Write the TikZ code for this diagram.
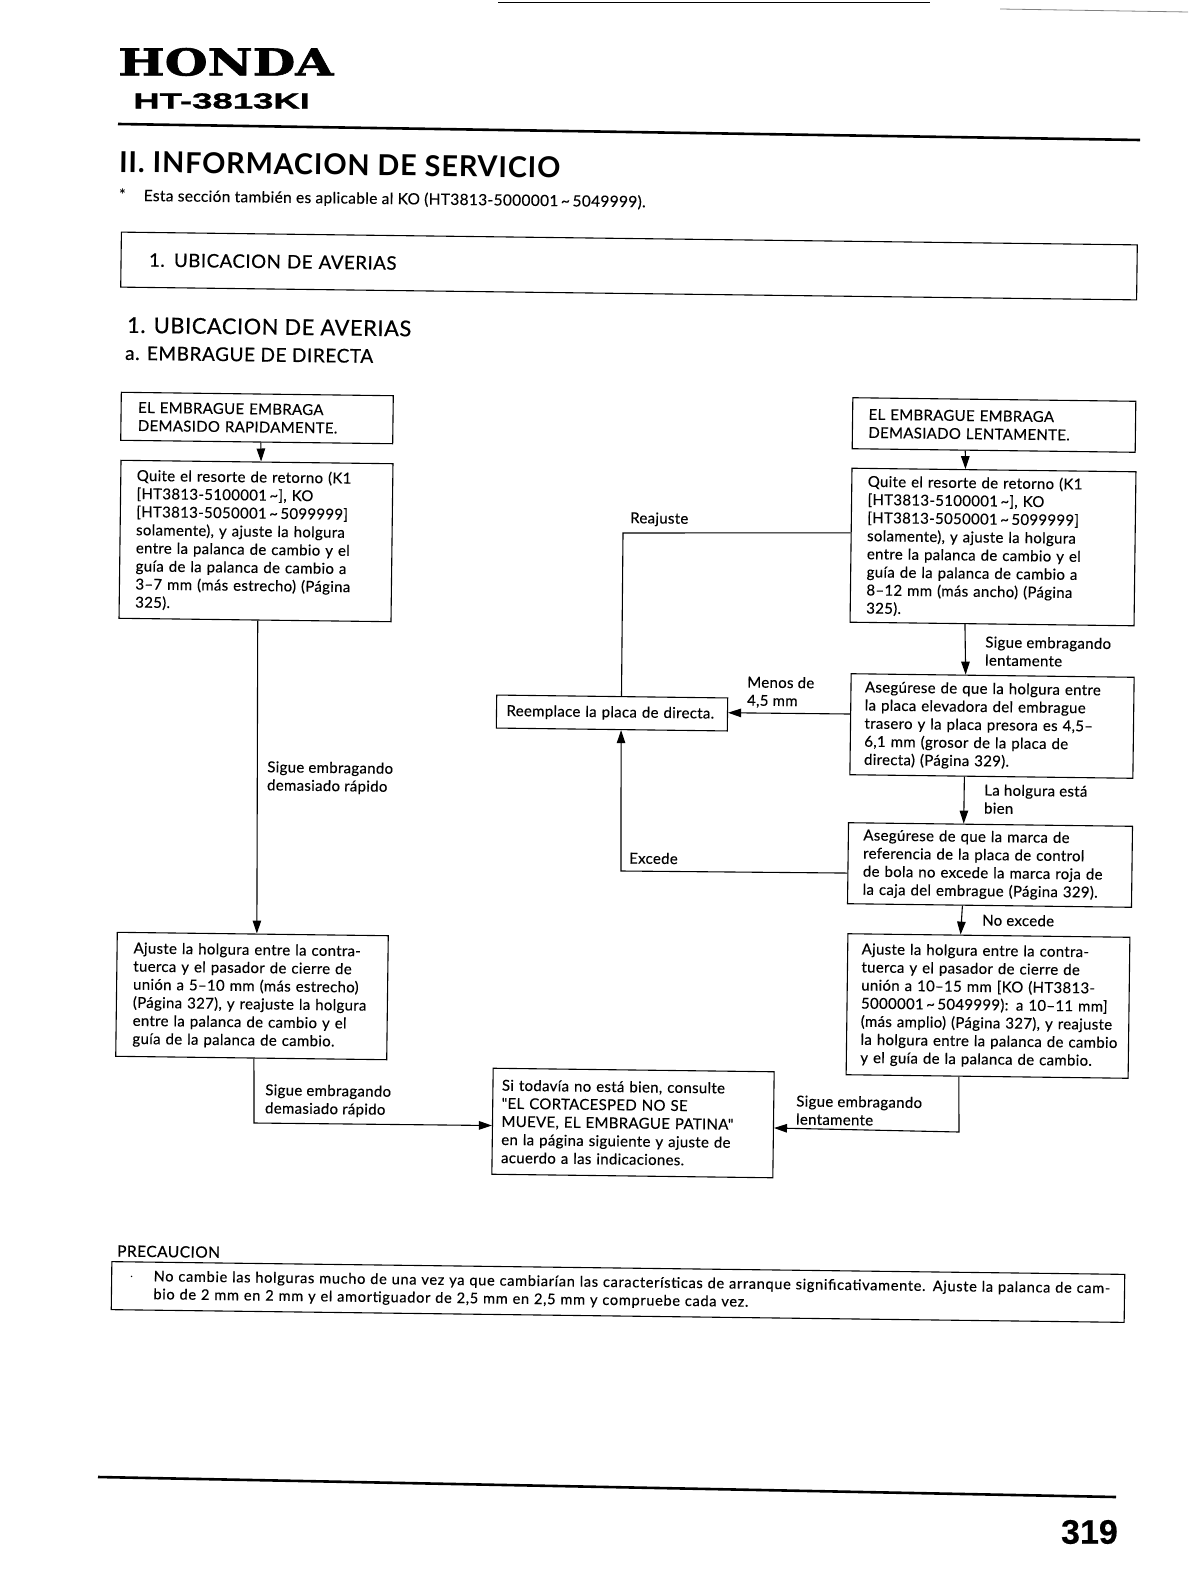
\documentclass[tikz,border=0pt]{standalone}
\usepackage{fontspec}
\usetikzlibrary{calc,arrows.meta}
\setmainfont{Lato}
\newfontfamily\bodyfam[LetterSpace=2.0,FakeBold=0.25]{Lato}
\newfontfamily\headfam[LetterSpace=3.0,FakeBold=0.6]{Lato}
\newfontfamily\titlefam[LetterSpace=3.0]{Lato Bold}
\newfontfamily\precfam[LetterSpace=4.5,FakeBold=0.4]{Lato}
\newfontfamily\serfam[FakeBold=1.5]{DejaVu Serif Bold}
\newfontfamily\helvfam[FakeBold=1.0]{Liberation Sans Bold}
\newfontfamily\pagefam[FakeBold=0.4]{Liberation Sans Bold}
\newcommand{\bodyf}{\bodyfam\fontsize{15}{18.1}\selectfont}
\tikzset{
  flowbox/.style={draw,line width=1.1pt,rotate=-0.72,align=left,font=\bodyf,inner ysep=0pt},
  note/.style={rotate=-0.72,align=left,anchor=west,inner sep=0pt,font=\bodyf},
  link/.style={draw,line width=1.1pt},
  arrowlink/.style={link,-{Triangle[length=13pt,width=8.5pt]}},
  rulethick/.style={line width=2.6pt},
  rulethin/.style={line width=0.8pt}
}
\begin{document}
\begin{tikzpicture}[x=1pt,y=-1pt]
\useasboundingbox[fill=white] (0,0) rectangle (1188,1594);
% scan edge marks and rules
\coordinate (e1) at (498,2); \coordinate (e2) at (930,2);
\coordinate (e3) at (1000,9); \coordinate (e4) at (1188,12);
\coordinate (r1) at (118,124); \coordinate (r2) at (1140,140);
\coordinate (r3) at (98,1477); \coordinate (r4) at (1116,1497);
\draw[rulethin] (e1)--(e2);
\draw[rulethin,gray] (e3)--(e4);
\draw[rulethick] (r1)--(r2);
\draw[rulethick] (r3)--(r4);
% headers
\node[inner sep=0,anchor=west,xscale=1.33,font=\serfam\fontsize{37}{37}\selectfont] (honda) at (118,62) {HONDA};
\node[inner sep=0,anchor=west,xscale=1.66,font=\helvfam\fontsize{22}{22}\selectfont] (model) at (133,101) {HT-3813KI};
\node[note,font=\titlefam\fontsize{28.8}{30}\selectfont] (title) at (119,162) {II. INFORMACION DE SERVICIO};
\node[note,font=\bodyfam\fontsize{15.5}{16}\selectfont] (star) at (119,196) {{\titlefam *}\hspace{18pt}Esta sección también es aplicable al KO (HT3813-5000001\,{\char"7E}\,5049999).};
\node[flowbox,minimum width=1016pt,minimum height=55pt,inner xsep=0pt,text width=960pt,font=\headfam\fontsize{18.6}{20}\selectfont] (banner) at (629,266) {1. UBICACION DE AVERIAS};
\node[note,font=\headfam\fontsize{21.7}{24}\selectfont] (sect) at (127,325) {1. UBICACION DE AVERIAS};
\node[note,font=\headfam\fontsize{19}{20}\selectfont] (sub) at (125,353) {a. EMBRAGUE DE DIRECTA};
% boxes
\node[flowbox,text width=238pt,inner xsep=17pt,minimum height=48pt] (A) at (257,418) {EL EMBRAGUE EMBRAGA\\DEMASIDO RAPIDAMENTE.};
\node[flowbox,text width=240pt,inner xsep=16pt,minimum height=158pt] (B) at (256,541) {Quite el resorte de retorno (K1\\{[}HT3813-5100001\,{\char"7E}{]}, KO\\{[}HT3813-5050001\,{\char"7E}\,5099999{]}\\solamente), y ajuste la holgura\\entre la palanca de cambio y el\\guía de la palanca de cambio a\\3–7 mm (más estrecho) (Página\\325).};
\node[flowbox,text width=238pt,inner xsep=16.5pt,minimum height=124pt] (I) at (252,996) {Ajuste la holgura entre la contra-\\tuerca y el pasador de cierre de\\unión a 5–10 mm (más estrecho)\\(Página 327), y reajuste la holgura\\entre la palanca de cambio y el\\guía de la palanca de cambio.};
\node[flowbox,text width=251pt,inner xsep=16pt,minimum height=51pt] (C) at (994,425) {EL EMBRAGUE EMBRAGA\\DEMASIADO LENTAMENTE.};
\node[flowbox,text width=252pt,inner xsep=16pt,minimum height=154pt] (D) at (993,547) {Quite el resorte de retorno (K1\\{[}HT3813-5100001\,{\char"7E}{]}, KO\\{[}HT3813-5050001\,{\char"7E}\,5099999{]}\\solamente), y ajuste la holgura\\entre la palanca de cambio y el\\guía de la palanca de cambio a\\8–12 mm (más ancho) (Página\\325).};
\node[flowbox,text width=255pt,inner xsep=14pt,minimum height=101pt] (E) at (992,726) {Asegúrese de que la holgura entre\\la placa elevadora del embrague\\trasero y la placa presora es 4,5–\\6,1 mm (grosor de la placa de\\directa) (Página 329).};
\node[flowbox,text width=254pt,inner xsep=15pt,minimum height=81pt] (F) at (990,865) {Asegúrese de que la marca de\\referencia de la placa de control\\de bola no excede la marca roja de\\la caja del embrague (Página 329).};
\node[flowbox,text width=254pt,inner xsep=14pt,minimum height=141pt] (G) at (988,1006) {Ajuste la holgura entre la contra-\\tuerca y el pasador de cierre de\\unión a 10–15 mm {[}KO (HT3813-\\5000001\,{\char"7E}\,5049999): a 10–11 mm{]}\\(más amplio) (Página 327), y reajuste\\\mbox{la holgura entre la palanca de cambio}\\y el guía de la palanca de cambio.};
\node[flowbox,text width=211pt,inner xsep=10pt,minimum height=33pt] (H) at (612,713) {Reemplace la placa de directa.};
\node[flowbox,text width=263pt,inner xsep=9pt,minimum height=106pt] (J) at (633,1123) {Si todavía no está bien, consulte\\"EL CORTACESPED NO SE\\MUEVE, EL EMBRAGUE PATINA"\\en la página siguiente y ajuste de\\acuerdo a las indicaciones.};
\node[flowbox,text width=977pt,inner xsep=18pt,minimum height=48pt,font=\precfam\fontsize{14.6}{18}\selectfont] (P) at (618,1292) {\makebox[24pt][l]{$\cdot$}No cambie las holguras mucho de una vez ya que cambiarían las características de arranque significativamente. Ajuste la palanca de cam-\\\hspace*{24pt}bio de 2 mm en 2 mm y el amortiguador de 2,5 mm en 2,5 mm y compruebe cada vez.};
% labels
\node[note] (l1) at (630,519) {Reajuste};
\node[note] (l2) at (747,692) {Menos de\\4,5 mm};
\node[note] (l3) at (985,651) {Sigue embragando\\lentamente};
\node[note] (l4) at (984,799) {La holgura está\\bien};
\node[note] (l5) at (629,858) {Excede};
\node[note] (l6) at (982,920) {No excede};
\node[note] (l7) at (267,777) {Sigue embragando\\demasiado rápido};
\node[note] (l8) at (265,1100) {Sigue embragando\\demasiado rápido};
\node[note] (l9) at (796,1110) {Sigue embragando\\lentamente};
\node[note,font=\headfam\fontsize{15.5}{16}\selectfont] (l10) at (117,1251) {PRECAUCION};
\node[inner sep=0,anchor=east,font=\pagefam\fontsize{34}{34}\selectfont] (pg) at (1118,1532) {319};
% elbows
\coordinate (ie) at (254,1123);
\coordinate (gj) at (959,1132);
\coordinate (dh) at (623,533);
\coordinate (fh) at (621,871);
% connectors
\draw[arrowlink] ($(A.south west)!0.515!(A.south east)$) -- ($(B.north west)!0.515!(B.north east)$);
\draw[arrowlink] ($(B.south west)!0.51!(B.south east)$) -- ($(I.north west)!0.515!(I.north east)$);
\draw[arrowlink] ($(I.south west)!0.51!(I.south east)$) -- (ie) -- ($(J.north west)!0.54!(J.south west)$);
\draw[arrowlink] ($(C.south west)!0.40!(C.south east)$) -- ($(D.north west)!0.40!(D.north east)$);
\draw[arrowlink] ($(D.south west)!0.405!(D.south east)$) -- ($(E.north west)!0.405!(E.north east)$);
\draw[arrowlink] ($(E.south west)!0.405!(E.south east)$) -- ($(F.north west)!0.406!(F.north east)$);
\draw[arrowlink] ($(F.south west)!0.405!(F.south east)$) -- ($(G.north west)!0.40!(G.north east)$);
\draw[arrowlink] ($(G.south west)!0.40!(G.south east)$) -- (gj) -- ($(J.north east)!0.53!(J.south east)$);
\draw[arrowlink] ($(E.north west)!0.40!(E.south west)$) -- ($(H.north east)!0.45!(H.south east)$);
\draw[link] ($(D.north west)!0.42!(D.south west)$) -- (dh) -- ($(H.north west)!0.54!(H.north east)$);
\draw[arrowlink] ($(F.north west)!0.62!(F.south west)$) -- (fh) -- ($(H.south west)!0.54!(H.south east)$);
\end{tikzpicture}
\end{document}
